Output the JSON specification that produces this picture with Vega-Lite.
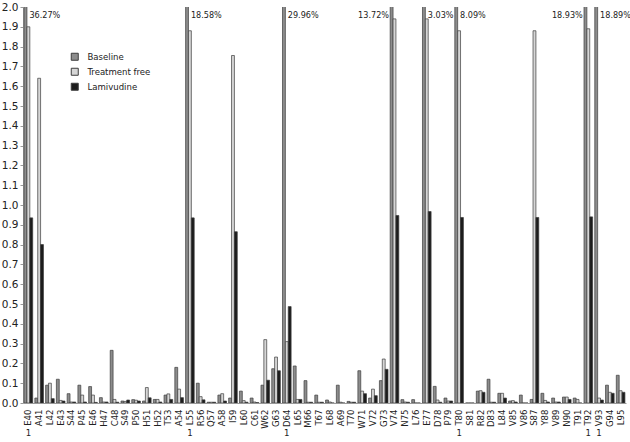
{
  "$schema": "https://vega.github.io/schema/vega-lite/v6.json",
  "width": 603,
  "height": 396,
  "autosize": {"type": "none"},
  "padding": {"left": 23, "top": 7, "right": 4, "bottom": 39},
  "background": "white",
  "config": {
    "view": {"stroke": null},
    "font": "DejaVu Sans Condensed, DejaVu Sans",
    "axisY": {
      "title": null,
      "format": ".1f",
      "grid": false,
      "labelOverlap": false,
      "labelFontSize": 10.5,
      "labelColor": "#222",
      "labelFont": "DejaVu Sans",
      "tickSize": 3,
      "tickColor": "#999",
      "domainColor": "#999",
      "labelPadding": 2
    }
  },
  "data": {"values": [
    {"pos":"E40","series":"Baseline","value":36.27,"pct":"36.27%","side":"r","one":"1"},
    {"pos":"E40","series":"Treatment free","value":1.90},
    {"pos":"E40","series":"Lamivudine","value":0.935},
    {"pos":"A41","series":"Baseline","value":0.025},
    {"pos":"A41","series":"Treatment free","value":1.64},
    {"pos":"A41","series":"Lamivudine","value":0.80},
    {"pos":"L42","series":"Baseline","value":0.09},
    {"pos":"L42","series":"Treatment free","value":0.10},
    {"pos":"L42","series":"Lamivudine","value":0.022},
    {"pos":"E43","series":"Baseline","value":0.12},
    {"pos":"E43","series":"Treatment free","value":0.013},
    {"pos":"E43","series":"Lamivudine","value":0.01},
    {"pos":"S44","series":"Baseline","value":0.047},
    {"pos":"S44","series":"Treatment free","value":0.005},
    {"pos":"S44","series":"Lamivudine","value":0.005},
    {"pos":"P45","series":"Baseline","value":0.09},
    {"pos":"P45","series":"Treatment free","value":0.04},
    {"pos":"P45","series":"Lamivudine","value":0.005},
    {"pos":"E46","series":"Baseline","value":0.083},
    {"pos":"E46","series":"Treatment free","value":0.04},
    {"pos":"E46","series":"Lamivudine","value":0.003},
    {"pos":"H47","series":"Baseline","value":0.027},
    {"pos":"H47","series":"Treatment free","value":0.005},
    {"pos":"H47","series":"Lamivudine","value":0.005},
    {"pos":"C48","series":"Baseline","value":0.266},
    {"pos":"C48","series":"Treatment free","value":0.018},
    {"pos":"C48","series":"Lamivudine","value":0.004},
    {"pos":"S49","series":"Baseline","value":0.01},
    {"pos":"S49","series":"Treatment free","value":0.008},
    {"pos":"S49","series":"Lamivudine","value":0.015},
    {"pos":"P50","series":"Baseline","value":0.017},
    {"pos":"P50","series":"Treatment free","value":0.014},
    {"pos":"P50","series":"Lamivudine","value":0.01},
    {"pos":"H51","series":"Baseline","value":0.01},
    {"pos":"H51","series":"Treatment free","value":0.078},
    {"pos":"H51","series":"Lamivudine","value":0.026},
    {"pos":"H52","series":"Baseline","value":0.018},
    {"pos":"H52","series":"Treatment free","value":0.018},
    {"pos":"H52","series":"Lamivudine","value":0.005},
    {"pos":"T53","series":"Baseline","value":0.04},
    {"pos":"T53","series":"Treatment free","value":0.046},
    {"pos":"T53","series":"Lamivudine","value":0.018},
    {"pos":"A54","series":"Baseline","value":0.18},
    {"pos":"A54","series":"Treatment free","value":0.07},
    {"pos":"A54","series":"Lamivudine","value":0.027},
    {"pos":"L55","series":"Baseline","value":18.58,"pct":"18.58%","side":"r","one":"1"},
    {"pos":"L55","series":"Treatment free","value":1.88},
    {"pos":"L55","series":"Lamivudine","value":0.935},
    {"pos":"R56","series":"Baseline","value":0.1},
    {"pos":"R56","series":"Treatment free","value":0.032},
    {"pos":"R56","series":"Lamivudine","value":0.016},
    {"pos":"Q57","series":"Baseline","value":0.004},
    {"pos":"Q57","series":"Treatment free","value":0.004},
    {"pos":"Q57","series":"Lamivudine","value":0.004},
    {"pos":"A58","series":"Baseline","value":0.04},
    {"pos":"A58","series":"Treatment free","value":0.047},
    {"pos":"A58","series":"Lamivudine","value":0.01},
    {"pos":"I59","series":"Baseline","value":0.025},
    {"pos":"I59","series":"Treatment free","value":1.755},
    {"pos":"I59","series":"Lamivudine","value":0.865},
    {"pos":"L60","series":"Baseline","value":0.06},
    {"pos":"L60","series":"Treatment free","value":0.012},
    {"pos":"L60","series":"Lamivudine","value":0.004},
    {"pos":"C61","series":"Baseline","value":0.025},
    {"pos":"C61","series":"Treatment free","value":0.005},
    {"pos":"C61","series":"Lamivudine","value":0.002},
    {"pos":"W62","series":"Baseline","value":0.09},
    {"pos":"W62","series":"Treatment free","value":0.32},
    {"pos":"W62","series":"Lamivudine","value":0.115},
    {"pos":"G63","series":"Baseline","value":0.173},
    {"pos":"G63","series":"Treatment free","value":0.232},
    {"pos":"G63","series":"Lamivudine","value":0.163},
    {"pos":"D64","series":"Baseline","value":29.96,"pct":"29.96%","side":"r","one":"1"},
    {"pos":"D64","series":"Treatment free","value":0.31},
    {"pos":"D64","series":"Lamivudine","value":0.487},
    {"pos":"L65","series":"Baseline","value":0.187},
    {"pos":"L65","series":"Treatment free","value":0.018},
    {"pos":"L65","series":"Lamivudine","value":0.018},
    {"pos":"M66","series":"Baseline","value":0.113},
    {"pos":"M66","series":"Treatment free","value":0.004},
    {"pos":"M66","series":"Lamivudine","value":0.004},
    {"pos":"T67","series":"Baseline","value":0.04},
    {"pos":"T67","series":"Treatment free","value":0.004},
    {"pos":"T67","series":"Lamivudine","value":0.004},
    {"pos":"L68","series":"Baseline","value":0.015},
    {"pos":"L68","series":"Treatment free","value":0.005},
    {"pos":"L68","series":"Lamivudine","value":0},
    {"pos":"A69","series":"Baseline","value":0.09},
    {"pos":"A69","series":"Treatment free","value":0.004},
    {"pos":"A69","series":"Lamivudine","value":0},
    {"pos":"T70","series":"Baseline","value":0.008},
    {"pos":"T70","series":"Treatment free","value":0.004},
    {"pos":"T70","series":"Lamivudine","value":0.004},
    {"pos":"W71","series":"Baseline","value":0.163},
    {"pos":"W71","series":"Treatment free","value":0.06},
    {"pos":"W71","series":"Lamivudine","value":0.047},
    {"pos":"V72","series":"Baseline","value":0.025},
    {"pos":"V72","series":"Treatment free","value":0.07},
    {"pos":"V72","series":"Lamivudine","value":0.037},
    {"pos":"G73","series":"Baseline","value":0.113},
    {"pos":"G73","series":"Treatment free","value":0.222},
    {"pos":"G73","series":"Lamivudine","value":0.17},
    {"pos":"V74","series":"Baseline","value":13.72,"pct":"13.72%","side":"l"},
    {"pos":"V74","series":"Treatment free","value":1.94},
    {"pos":"V74","series":"Lamivudine","value":0.947},
    {"pos":"N75","series":"Baseline","value":0.017},
    {"pos":"N75","series":"Treatment free","value":0.005},
    {"pos":"N75","series":"Lamivudine","value":0.004},
    {"pos":"L76","series":"Baseline","value":0.017},
    {"pos":"L76","series":"Treatment free","value":0},
    {"pos":"L76","series":"Lamivudine","value":0},
    {"pos":"E77","series":"Baseline","value":3.03,"pct":"3.03%","side":"r"},
    {"pos":"E77","series":"Treatment free","value":1.94},
    {"pos":"E77","series":"Lamivudine","value":0.967},
    {"pos":"D78","series":"Baseline","value":0.084},
    {"pos":"D78","series":"Treatment free","value":0.015},
    {"pos":"D78","series":"Lamivudine","value":0.004},
    {"pos":"P79","series":"Baseline","value":0.025},
    {"pos":"P79","series":"Treatment free","value":0.01},
    {"pos":"P79","series":"Lamivudine","value":0.01},
    {"pos":"T80","series":"Baseline","value":8.09,"pct":"8.09%","side":"r","one":"1"},
    {"pos":"T80","series":"Treatment free","value":1.88},
    {"pos":"T80","series":"Lamivudine","value":0.937},
    {"pos":"S81","series":"Baseline","value":0},
    {"pos":"S81","series":"Treatment free","value":0},
    {"pos":"S81","series":"Lamivudine","value":0},
    {"pos":"R82","series":"Baseline","value":0.06},
    {"pos":"R82","series":"Treatment free","value":0.062},
    {"pos":"R82","series":"Lamivudine","value":0.054},
    {"pos":"D83","series":"Baseline","value":0.12},
    {"pos":"D83","series":"Treatment free","value":0.004},
    {"pos":"D83","series":"Lamivudine","value":0.004},
    {"pos":"L84","series":"Baseline","value":0.049},
    {"pos":"L84","series":"Treatment free","value":0.049},
    {"pos":"L84","series":"Lamivudine","value":0.025},
    {"pos":"V85","series":"Baseline","value":0.01},
    {"pos":"V85","series":"Treatment free","value":0.012},
    {"pos":"V85","series":"Lamivudine","value":0.005},
    {"pos":"V86","series":"Baseline","value":0.04},
    {"pos":"V86","series":"Treatment free","value":0},
    {"pos":"V86","series":"Lamivudine","value":0},
    {"pos":"S87","series":"Baseline","value":0.018},
    {"pos":"S87","series":"Treatment free","value":1.88},
    {"pos":"S87","series":"Lamivudine","value":0.937},
    {"pos":"Y88","series":"Baseline","value":0.049},
    {"pos":"Y88","series":"Treatment free","value":0.013},
    {"pos":"Y88","series":"Lamivudine","value":0.005},
    {"pos":"V89","series":"Baseline","value":0.025},
    {"pos":"V89","series":"Treatment free","value":0.005},
    {"pos":"V89","series":"Lamivudine","value":0.005},
    {"pos":"N90","series":"Baseline","value":0.03},
    {"pos":"N90","series":"Treatment free","value":0.03},
    {"pos":"N90","series":"Lamivudine","value":0.018},
    {"pos":"T91","series":"Baseline","value":0.025},
    {"pos":"T91","series":"Treatment free","value":0.018},
    {"pos":"T91","series":"Lamivudine","value":0},
    {"pos":"T92","series":"Baseline","value":18.93,"pct":"18.93%","side":"l","one":"1"},
    {"pos":"T92","series":"Treatment free","value":1.89},
    {"pos":"T92","series":"Lamivudine","value":0.94},
    {"pos":"V93","series":"Baseline","value":18.89,"pct":"18.89%","side":"r","one":"1"},
    {"pos":"V93","series":"Treatment free","value":0.025},
    {"pos":"V93","series":"Lamivudine","value":0.015},
    {"pos":"G94","series":"Baseline","value":0.09},
    {"pos":"G94","series":"Treatment free","value":0.054},
    {"pos":"G94","series":"Lamivudine","value":0.049},
    {"pos":"L95","series":"Baseline","value":0.14},
    {"pos":"L95","series":"Treatment free","value":0.062},
    {"pos":"L95","series":"Lamivudine","value":0.054}
  ]},
  "encoding": {
    "x": {
      "field": "pos",
      "type": "nominal",
      "sort": null,
      "scale": {
        "domain": ["E40","A41","L42","E43","S44","P45","E46","H47","C48","S49","P50","H51","H52","T53","A54","L55","R56","Q57","A58","I59","L60","C61","W62","G63","D64","L65","M66","T67","L68","A69","T70","W71","V72","G73","V74","N75","L76","E77","D78","P79","T80","S81","R82","D83","L84","V85","V86","S87","Y88","V89","N90","T91","T92","V93","G94","L95"],
        "paddingInner": 0.2,
        "paddingOuter": 0.1
      },
      "axis": {
        "title": null,
        "labelAngle": -90,
        "labelFontSize": 9.5,
        "labelColor": "#222",
        "labelPadding": 6,
        "ticks": false,
        "labelOverlap": false,
        "domainColor": "#999",
        "labelFont": "DejaVu Sans Condensed, DejaVu Sans"
      }
    }
  },
  "layer": [
    {
      "mark": {"type": "bar", "clip": true, "stroke": "#3c3c3c", "strokeWidth": 0.7},
      "encoding": {
        "xOffset": {"field": "series", "type": "nominal", "sort": ["Baseline","Treatment free","Lamivudine"], "scale": {"paddingInner": 0, "paddingOuter": 0}},
        "y": {
          "field": "value",
          "type": "quantitative",
          "scale": {"domain": [0, 2], "nice": false},
          "axis": {"values": [0,0.1,0.2,0.3,0.4,0.5,0.6,0.7,0.8,0.9,1.0,1.1,1.2,1.3,1.4,1.5,1.6,1.7,1.8,1.9,2.0]}
        },
        "fill": {
          "field": "series",
          "type": "nominal",
          "sort": ["Baseline","Treatment free","Lamivudine"],
          "scale": {"domain": ["Baseline","Treatment free","Lamivudine"], "range": ["#8c8c8c","#d6d6d6","#1c1c1c"]},
          "legend": {
            "title": null,
            "orient": "none",
            "legendX": 47,
            "legendY": 45,
            "symbolType": "square",
            "symbolSize": 49,
            "symbolStrokeColor": "#3c3c3c",
            "symbolStrokeWidth": 1,
            "labelFontSize": 9.5,
            "labelColor": "#222",
            "labelOffset": 8,
            "rowPadding": 3
          }
        }
      }
    },
    {
      "transform": [{"filter": "datum.side === 'r'"}],
      "mark": {"type": "text", "align": "left", "baseline": "middle", "dx": 1, "dy": 8, "fontSize": 9, "color": "#222"},
      "encoding": {
        "y": {"datum": 2, "axis": {"values": [0,0.1,0.2,0.3,0.4,0.5,0.6,0.7,0.8,0.9,1.0,1.1,1.2,1.3,1.4,1.5,1.6,1.7,1.8,1.9,2.0]}},
        "text": {"field": "pct"}
      }
    },
    {
      "transform": [{"filter": "datum.side === 'l'"}],
      "mark": {"type": "text", "align": "right", "baseline": "middle", "dx": -5.5, "dy": 8, "fontSize": 9, "color": "#222"},
      "encoding": {
        "y": {"datum": 2, "axis": {"values": [0,0.1,0.2,0.3,0.4,0.5,0.6,0.7,0.8,0.9,1.0,1.1,1.2,1.3,1.4,1.5,1.6,1.7,1.8,1.9,2.0]}},
        "text": {"field": "pct"}
      }
    },
    {
      "transform": [{"filter": "datum.one === '1'"}],
      "mark": {"type": "text", "align": "center", "baseline": "middle", "dy": 30, "fontSize": 9.5, "color": "#222"},
      "encoding": {
        "y": {"datum": 0, "axis": {"values": [0,0.1,0.2,0.3,0.4,0.5,0.6,0.7,0.8,0.9,1.0,1.1,1.2,1.3,1.4,1.5,1.6,1.7,1.8,1.9,2.0]}},
        "text": {"field": "one"}
      }
    }
  ]
}
